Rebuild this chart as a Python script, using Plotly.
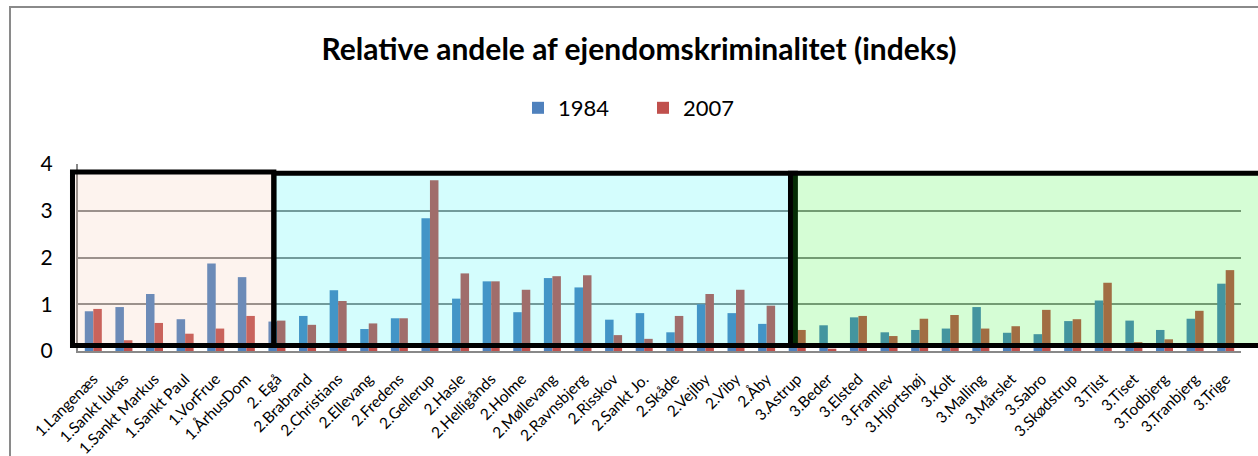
import plotly.graph_objects as go

# Parishes grouped by zone (prefix 1/2/3)
parishes = [
    "1.Langenæs", "1.Sankt lukas", "1.Sankt Markus", "1.Sankt Paul", "1.VorFrue", "1.ÅrhusDom",
    "2. Egå", "2.Brabrand", "2.Christians", "2.Ellevang", "2.Fredens", "2.Gellerup", "2.Hasle",
    "2.Helligånds", "2.Holme", "2.Møllevang", "2.Ravnsbjerg", "2.Risskov", "2.Sankt Jo.",
    "2.Skåde", "2.Vejlby", "2.Viby", "2.Åby",
    "3.Astrup", "3.Beder", "3.Elsted", "3.Framlev", "3.Hjortshøj", "3.Kolt", "3.Malling",
    "3.Mårslet", "3.Sabro", "3.Skødstrup", "3.Tilst", "3.Tiset", "3.Todbjerg", "3.Tranbjerg",
    "3.Trige",
]

idx_1984 = [
    0.85, 0.94, 1.22, 0.68, 1.87, 1.58,
    0.63, 0.75, 1.30, 0.47, 0.70, 2.84, 1.12, 1.49, 0.83, 1.56, 1.36, 0.67, 0.81, 0.40, 1.00, 0.81, 0.58,
    0.50, 0.55, 0.72, 0.40, 0.45, 0.48, 0.94, 0.39, 0.36, 0.64, 1.08, 0.65, 0.45, 0.69, 1.44,
]

idx_2007 = [
    0.90, 0.23, 0.60, 0.37, 0.48, 0.75,
    0.65, 0.56, 1.07, 0.59, 0.70, 3.65, 1.66, 1.49, 1.31, 1.60, 1.62, 0.34, 0.26, 0.75, 1.22, 1.31, 0.97,
    0.45, 0.05, 0.75, 0.32, 0.69, 0.77, 0.48, 0.53, 0.88, 0.68, 1.46, 0.19, 0.25, 0.86, 1.73,
]

series_names = ["1984", "2007"]
y_ticks = [0, 1, 2, 3, 4]

FONT = "Lato"
GRID = "#888888"
N = len(parishes)
Y_MAX = 4

fig = go.Figure()
fig.add_trace(go.Bar(name=series_names[0], x=parishes, y=idx_1984, marker_color="#4f81bd",
                     marker_line_width=0))
fig.add_trace(go.Bar(name=series_names[1], x=parishes, y=idx_2007, marker_color="#c0504d",
                     marker_line_width=0))


def px(xd):
    """category position -> paper fraction (paper shapes are not clipped)"""
    return (xd + 0.5) / N


def py(yd):
    return yd / Y_MAX


# Zone boxes: translucent fill plus a heavy black frame, drawn over the bars
def zone_box(x0, x1, y0, y1, fill, line="black"):
    return dict(type="rect", xref="paper", yref="paper",
                x0=px(x0), x1=px(x1), y0=py(y0), y1=py(y1),
                fillcolor=fill, line=dict(color=line, width=5), layer="above")


shapes = [
    zone_box(-0.68, 5.90, 0.12, 3.83, "rgba(244,189,161,0.18)"),
    zone_box(5.90, 22.94, 0.12, 3.80, "rgba(16,244,244,0.18)"),
    zone_box(22.78, 60.0, 0.12, 3.80, "rgba(22,244,22,0.18)"),
    # outer chart frame
    dict(type="rect", xref="paper", yref="paper",
         x0=(10 - 78) / 1163, x1=1.2, y0=-1.0, y1=(351 - 7) / 187,
         line=dict(color="#8a8a8a", width=2), fillcolor="rgba(0,0,0,0)", layer="below"),
]

fig.update_layout(
    width=1258, height=456,
    margin=dict(l=78, r=17, t=164, b=105, autoexpand=False),
    paper_bgcolor="white", plot_bgcolor="white",
    barmode="group", bargap=0.444, bargroupgap=0,
    font=dict(family=FONT, color="black"),
    title=dict(text="<b>Relative andele af ejendomskriminalitet (indeks)</b>",
               x=639 / 1258, xanchor="center", y=1 - 49 / 456, yanchor="middle",
               font=dict(family=FONT, size=30, color="black")),
    legend=dict(orientation="h", x=(643 - 78) / 1163, xanchor="center",
                y=(351 - 108) / 187, yanchor="middle",
                font=dict(family=FONT, size=22), itemwidth=30,
                entrywidth=80, entrywidthmode="pixels",
                bgcolor="rgba(0,0,0,0)"),
    shapes=shapes,
    showlegend=True,
)

fig.update_xaxes(
    type="category", range=[-0.5, N - 0.5],
    tickangle=-45, tickfont=dict(family=FONT, size=15.5, color="black"),
    showgrid=False, showline=True, linecolor=GRID, linewidth=2,
    ticks="outside", ticklen=11, tickcolor="rgba(0,0,0,0)",
)
fig.update_yaxes(
    range=[0, Y_MAX], tickvals=y_ticks, ticktext=[str(v) for v in y_ticks],
    tickfont=dict(family=FONT, size=21, color="black"),
    showgrid=True, gridcolor=GRID, gridwidth=2,
    showline=True, linecolor=GRID, linewidth=2,
    ticks="outside", ticklen=19, tickcolor="rgba(0,0,0,0)",
    zeroline=False,
)

fig.write_html("out.html")
